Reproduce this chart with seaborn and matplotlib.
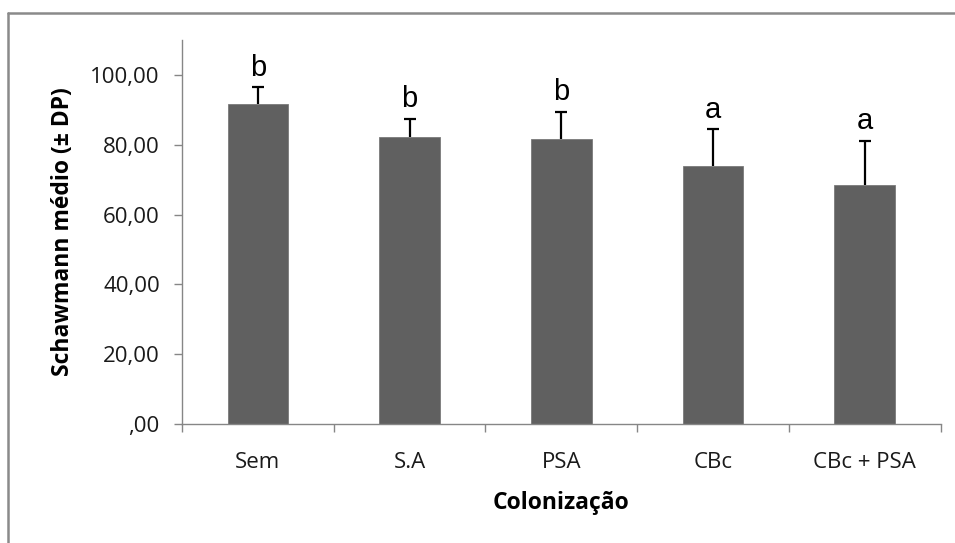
import matplotlib
matplotlib.use("Agg")
import matplotlib.pyplot as plt
from matplotlib.lines import Line2D
from matplotlib.ticker import FuncFormatter, FixedLocator
import numpy as np
import pandas as pd
import seaborn as sns

# Treatment groups, mean Schawmann score, standard deviation and group letters
categories = ["Sem", "S.A", "PSA", "CBc", "CBc + PSA"]
means = [91.8, 82.2, 81.5, 74.0, 68.5]
sd = [4.7, 5.3, 8.0, 10.4, 12.7]
letters = ["b", "b", "b", "a", "a"]

df = pd.DataFrame({"grupo": categories, "media": means, "dp": sd})

sns.set_theme(style="white")
plt.rcParams["font.family"] = ["Open Sans", "DejaVu Sans"]

W, H = 955, 543
fig = plt.figure(figsize=(W / 100, H / 100), dpi=100)
ax = fig.add_axes([182 / W, 1 - 424 / H, (940.7 - 182) / W, (424 - 40) / H])

bar_color = "#606060"
axis_color = "#868686"

sns.barplot(data=df, x="grupo", y="media", color=bar_color, width=0.4,
            errorbar=None, saturation=1, ax=ax, edgecolor="#7a7a7a", linewidth=0.6)

# Upper-only standard deviation whiskers
x = np.arange(len(categories))
_, caps, _ = ax.errorbar(x, df["media"], yerr=[np.zeros(len(sd)), df["dp"]], fmt="none",
                         ecolor="black", elinewidth=1.6, capsize=4.2, capthick=1.6, zorder=3)
caps[0].set_visible(False)  # no cap at the bar top

# Significance letters above each whisker
for xi, m, s, lab in zip(x, means, sd, letters):
    ax.text(xi, m + s + 1.6, lab, ha="center", va="bottom", fontsize=21,
            family=["Liberation Sans", "DejaVu Sans"], color="black")

ax.set_ylim(0, 110)
ax.set_xlim(-0.5, len(categories) - 0.5)
ax.yaxis.set_major_locator(FixedLocator([0, 20, 40, 60, 80, 100]))
ax.yaxis.set_major_formatter(FuncFormatter(
    lambda v, p: ",00" if v == 0 else f"{v:.2f}".replace(".", ",")))

# Category boundary ticks on the x axis
ax.set_xticks(np.arange(-0.5, len(categories)), minor=True)
ax.tick_params(axis="x", which="major", length=0, pad=20, labelsize=16, labelcolor="#1a1a1a")
ax.tick_params(axis="x", which="minor", length=6, width=1, color=axis_color, direction="out")
ax.tick_params(axis="y", which="major", length=6, width=1, color=axis_color, direction="out",
               pad=10, labelsize=16, labelcolor="#1a1a1a")
ax.tick_params(left=True)
ax.xaxis.set_ticks_position("bottom")

for side in ["top", "right"]:
    ax.spines[side].set_visible(False)
for side in ["left", "bottom"]:
    ax.spines[side].set_color(axis_color)
    ax.spines[side].set_linewidth(1)

ax.set_xlabel("Colonização", fontsize=16.5, fontweight="bold", labelpad=13, color="black")
ax.set_ylabel("Schawmann médio (± DP)", fontsize=16.5, fontweight="bold", labelpad=11, color="black")

# Chart-area frame, cropped at the right and bottom
fig.add_artist(Line2D([8 / W, 8 / W], [0, 1 - 13 / H], transform=fig.transFigure,
                      color="#8a8a8a", linewidth=1.8))
fig.add_artist(Line2D([8 / W, 1], [1 - 13 / H, 1 - 13 / H], transform=fig.transFigure,
                      color="#8a8a8a", linewidth=1.8))

fig.savefig("out.png", dpi=100, facecolor="white")
